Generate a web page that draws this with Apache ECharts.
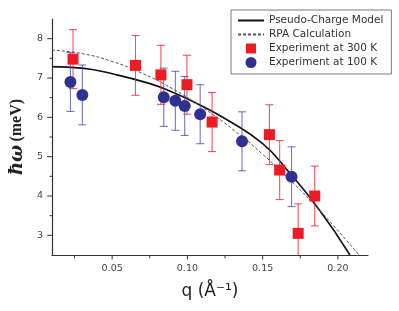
<!DOCTYPE html>
<html>
<head>
<meta charset="utf-8">
<script src="https://cdn.jsdelivr.net/npm/echarts@6/dist/echarts.min.js"></script>
<style>html,body{margin:0;padding:0;background:#fff;}#c{width:399px;height:311px;}</style>
</head>
<body>
<div id="c"></div>
<script>
// ---- data ----
const q300 = [0.024, 0.0655, 0.0824, 0.0997, 0.1164, 0.1545, 0.1613, 0.1736, 0.1846];
const w300 = [7.48, 7.32, 7.08, 6.83, 5.88, 5.56, 4.66, 3.05, 4.00];
const e300 = [0.75, 0.76, 0.75, 0.75, 0.75, 0.76, 0.75, 0.75, 0.76];

const q100 = [0.0223, 0.0302, 0.0843, 0.0920, 0.0982, 0.1085, 0.1363, 0.1692];
const w100 = [6.90, 6.57, 6.51, 6.42, 6.29, 6.08, 5.39, 4.49];
const e100 = [0.75, 0.76, 0.74, 0.75, 0.75, 0.75, 0.75, 0.76];

const qModel = [0.010, 0.030, 0.052, 0.074, 0.087, 0.106, 0.128, 0.150, 0.165, 0.187, 0.208];
const wModel = [7.29, 7.25, 7.09, 6.87, 6.69, 6.36, 5.90, 5.33, 4.72, 3.68, 2.50];

const qRPA = [0.010, 0.030, 0.050, 0.070, 0.090, 0.110, 0.130, 0.150, 0.170, 0.190, 0.214];
const wRPA = [7.71, 7.62, 7.42, 7.12, 6.73, 6.25, 5.70, 5.06, 4.34, 3.55, 2.50];

const xTicks = [0.025, 0.05, 0.075, 0.10, 0.125, 0.15, 0.175, 0.20];
const yTicks = [3, 3.5, 4, 4.5, 5, 5.5, 6, 6.5, 7, 7.5, 8];
const xTickLabels = ['0.05', '0.10', '0.15', '0.20'];
const yTickLabels = ['3', '4', '5', '6', '7', '8'];

const X_MIN = 0.01, X_MAX = 0.22, Y_MIN = 2.5, Y_MAX = 8.5;
const RED = '#ed1c24', BLUE = '#2e3192';

function zip(a, b, c) { return a.map((v, i) => c ? [v, b[i], c[i]] : [v, b[i]]); }

function errRender(color) {
  return function (params, api) {
    const x = api.value(0), y = api.value(1), e = api.value(2);
    const hi = Math.min(y + e, Y_MAX), lo = Math.max(y - e, Y_MIN);
    const pTop = api.coord([x, hi]);
    const pBot = api.coord([x, lo]);
    const cw = 4;
    const st = { stroke: color, lineWidth: 1.1 };
    const children = [
      { type: 'line', shape: { x1: pTop[0], y1: pTop[1], x2: pBot[0], y2: pBot[1] }, style: st }
    ];
    if (y + e <= Y_MAX) children.push({ type: 'line', shape: { x1: pTop[0] - cw, y1: pTop[1], x2: pTop[0] + cw, y2: pTop[1] }, style: st });
    if (y - e >= Y_MIN) children.push({ type: 'line', shape: { x1: pBot[0] - cw, y1: pBot[1], x2: pBot[0] + cw, y2: pBot[1] }, style: st });
    return { type: 'group', children: children };
  };
}

function isMult(v, step) { return Math.abs(v / step - Math.round(v / step)) < 1e-6; }

function xTickRender(params, api) {
  const v = api.value(0);
  const p = api.coord([v, Y_MIN]);
  const len = isMult(v, 0.05) ? 4.5 : 3.3;
  return { type: 'line', shape: { x1: p[0], y1: p[1], x2: p[0], y2: p[1] + len }, style: { stroke: '#333', lineWidth: 1 } };
}
function yTickRender(params, api) {
  const v = api.value(1);
  const p = api.coord([X_MIN, v]);
  const len = isMult(v, 1) ? 4.7 : 2.4;
  return { type: 'line', shape: { x1: p[0] - len, y1: p[1], x2: p[0], y2: p[1] }, style: { stroke: '#333', lineWidth: 1 } };
}

const hiddenItem = { color: 'rgba(0,0,0,0)', borderWidth: 0, borderColor: 'rgba(0,0,0,0)' };
const squareIcon = 'path://M0,0 M26,11 M8,0.5 L18,0.5 L18,10.5 L8,10.5 Z';

const chart = echarts.init(document.getElementById('c'), null, { renderer: 'canvas' });
chart.setOption({
  animation: false,
  backgroundColor: '#fff',
  grid: { left: 48, top: 19, right: 31, bottom: 56, containLabel: false },
  legend: {
    left: 231, top: 10,
    orient: 'vertical',
    borderColor: '#7a7a7a', borderWidth: 1, borderRadius: 0,
    padding: [5, 8, 6, 6],
    itemWidth: 26, itemHeight: 11, itemGap: 3,
    textStyle: { fontFamily: 'DejaVu Sans', fontSize: 10.5, color: '#333' },
    data: [
      { name: 'Pseudo-Charge Model', itemStyle: hiddenItem },
      { name: 'RPA Calculation', itemStyle: hiddenItem },
      { name: 'Experiment at 300 K', icon: squareIcon },
      { name: 'Experiment at 100 K' }
    ]
  },
  xAxis: {
    type: 'value', min: X_MIN, max: X_MAX, interval: 0.005,
    name: 'q (Å⁻¹)', nameLocation: 'middle', nameGap: 28,
    nameTextStyle: { fontFamily: 'DejaVu Sans', fontSize: 17, color: '#222' },
    axisLine: { show: true, onZero: false, lineStyle: { color: '#333', width: 1.2 } },
    axisTick: { show: false },
    axisLabel: {
      margin: 9, fontFamily: 'DejaVu Sans', fontSize: 9.5, color: '#444',
      showMinLabel: false, showMaxLabel: false,
      formatter: function (v) {
        const s = v.toFixed(2);
        return xTickLabels.indexOf(s) >= 0 && isMult(v, 0.05) ? s : '';
      }
    },
    splitLine: { show: false }
  },
  yAxis: {
    type: 'value', min: Y_MIN, max: Y_MAX, interval: 0.5,
    name: '{a|ħω} {b|(meV)}', nameLocation: 'middle', nameGap: 23, nameRotate: 90,
    nameTextStyle: {
      rich: {
        a: { fontFamily: 'DejaVu Serif', fontStyle: 'italic', fontWeight: 'bold', fontSize: 18, color: '#222' },
        b: { fontFamily: 'Liberation Serif', fontWeight: 'bold', fontSize: 16, color: '#222' }
      }
    },
    axisLine: { show: true, onZero: false, lineStyle: { color: '#333', width: 1.2 } },
    axisTick: { show: false },
    axisLabel: {
      margin: 9, fontFamily: 'DejaVu Sans', fontSize: 9.5, color: '#444',
      formatter: function (v) {
        const s = String(Math.round(v));
        return isMult(v, 1) && yTickLabels.indexOf(s) >= 0 ? s : '';
      }
    },
    splitLine: { show: false }
  },
  series: [
    {
      name: 'xticks', type: 'custom', data: xTicks.map(v => [v, Y_MIN]), clip: false, z: 2,
      renderItem: xTickRender, encode: { x: 0, y: 1 }, silent: true
    },
    {
      name: 'yticks', type: 'custom', data: yTicks.map(v => [X_MIN, v]), clip: false, z: 2,
      renderItem: yTickRender, encode: { x: 0, y: 1 }, silent: true
    },
    {
      name: 'Pseudo-Charge Model', type: 'line', data: zip(qModel, wModel),
      smooth: true, symbol: 'none', z: 3,
      lineStyle: { color: '#111', width: 1.6 }, itemStyle: { color: '#111' }
    },
    {
      name: 'RPA Calculation', type: 'line', data: zip(qRPA, wRPA),
      smooth: true, symbol: 'none', z: 3,
      lineStyle: { color: '#555', width: 1, type: [3, 2] }, itemStyle: { color: '#555' }
    },
    {
      name: 'err300', type: 'custom', data: zip(q300, w300, e300), z: 4,
      renderItem: errRender('rgba(237,28,36,0.75)'), encode: { x: 0, y: 1 }
    },
    {
      name: 'err100', type: 'custom', data: zip(q100, w100, e100), z: 4,
      renderItem: errRender('rgba(60,60,160,0.7)'), encode: { x: 0, y: 1 }
    },
    {
      name: 'Experiment at 300 K', type: 'scatter', data: zip(q300, w300),
      symbol: 'rect', symbolSize: 11, z: 5, itemStyle: { color: RED, opacity: 1 }
    },
    {
      name: 'Experiment at 100 K', type: 'scatter', data: zip(q100, w100),
      symbol: 'circle', symbolSize: 12, z: 6, itemStyle: { color: BLUE, opacity: 1 }
    }
  ]
});
</script>
</body>
</html>
